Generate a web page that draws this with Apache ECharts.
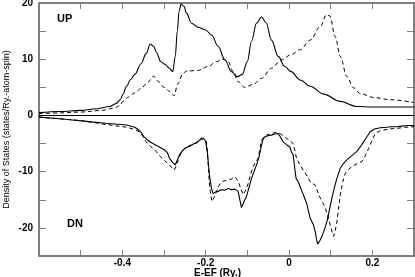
<!DOCTYPE html>
<html>
<head>
<meta charset="utf-8">
<script src="https://cdn.jsdelivr.net/npm/echarts@6/dist/echarts.min.js"></script>
<style>html,body{margin:0;padding:0;background:#fff}#c{width:415px;height:277px}</style>
</head>
<body>
<div id="c"></div>
<script>
// Energy range and ticks
const xMin = -0.6, xMax = 0.3, xStep = 0.1;
const yMin = -25, yMax = 20, yStep = 5;
const xTickLabels = ['-0.4', '-0.2', '0', '0.2'];
const yTickLabels = ['20', '10', '0', '-10', '-20'];
const upLabel = 'UP', dnLabel = 'DN';

// [E-EF (Ry), DOS]
const upSolid = [[-0.6,0.5],[-0.55,0.7],[-0.5,0.9],[-0.46,1.2],[-0.43,1.6],[-0.415,2.1],[-0.405,2.8],[-0.398,3.8],[-0.39,5.2],[-0.38,6.4],[-0.37,7.3],[-0.355,9.2],[-0.343,11.0],[-0.333,12.7],[-0.325,12.3],[-0.318,11.2],[-0.308,9.6],[-0.298,9.1],[-0.287,8.4],[-0.279,7.8],[-0.273,10.5],[-0.268,15],[-0.264,18.5],[-0.259,19.8],[-0.252,19.4],[-0.246,18.2],[-0.234,16.4],[-0.219,15.7],[-0.2,15.2],[-0.186,14.3],[-0.17,12.3],[-0.154,9.9],[-0.138,7.8],[-0.124,6.9],[-0.112,7.3],[-0.1,9.6],[-0.09,13.2],[-0.078,16.4],[-0.066,17.5],[-0.055,16.5],[-0.042,13.4],[-0.026,10.5],[-0.01,8.7],[0.005,7.8],[0.027,6.3],[0.051,5.2],[0.083,3.8],[0.123,2.5],[0.163,1.6],[0.2,1.5],[0.3,1.5]];
const upDashed = [[-0.6,0.3],[-0.55,0.45],[-0.5,0.6],[-0.45,0.9],[-0.42,1.3],[-0.407,1.7],[-0.397,2.6],[-0.385,3.3],[-0.37,4.0],[-0.355,4.8],[-0.34,5.8],[-0.325,7.0],[-0.313,6.0],[-0.3,5.0],[-0.287,4.3],[-0.276,3.5],[-0.267,5.6],[-0.255,7.4],[-0.246,7.9],[-0.219,8.0],[-0.194,8.7],[-0.174,9.6],[-0.158,10.0],[-0.146,9.6],[-0.134,7.8],[-0.122,6.0],[-0.106,5.0],[-0.086,5.5],[-0.066,6.6],[-0.042,8.4],[-0.018,9.9],[0.005,10.8],[0.027,11.7],[0.051,13.4],[0.075,15.8],[0.09,17.9],[0.098,17.7],[0.111,14.0],[0.123,10.5],[0.139,6.9],[0.155,4.9],[0.171,3.9],[0.203,3.2],[0.243,2.8],[0.3,2.3]];
const dnSolid = [[-0.6,-0.3],[-0.55,-0.6],[-0.52,-0.8],[-0.48,-1.1],[-0.44,-1.4],[-0.39,-1.7],[-0.37,-2.1],[-0.362,-2.5],[-0.355,-3.0],[-0.348,-3.8],[-0.339,-4.4],[-0.329,-4.9],[-0.319,-5.3],[-0.309,-5.7],[-0.299,-6.1],[-0.292,-6.6],[-0.287,-7.6],[-0.28,-8.3],[-0.273,-8.8],[-0.268,-7.9],[-0.263,-7.0],[-0.257,-6.4],[-0.251,-5.9],[-0.243,-5.6],[-0.234,-5.3],[-0.228,-5.0],[-0.222,-4.8],[-0.216,-4.5],[-0.21,-4.0],[-0.205,-4.1],[-0.2,-4.6],[-0.196,-6.4],[-0.193,-9.0],[-0.19,-11.2],[-0.186,-13.0],[-0.182,-13.9],[-0.176,-13.6],[-0.17,-13.5],[-0.162,-13.2],[-0.154,-13.3],[-0.146,-13.0],[-0.138,-13.2],[-0.13,-13.1],[-0.122,-13.5],[-0.118,-15.0],[-0.114,-16.4],[-0.108,-15.3],[-0.102,-14.4],[-0.096,-12.8],[-0.09,-11.2],[-0.084,-10.0],[-0.078,-8.8],[-0.072,-7.4],[-0.066,-5.3],[-0.062,-4.2],[-0.058,-3.8],[-0.05,-3.6],[-0.042,-3.5],[-0.034,-3.3],[-0.026,-3.2],[-0.02,-3.9],[-0.014,-4.7],[-0.006,-5.2],[0.002,-5.6],[0.006,-6.5],[0.01,-7.0],[0.014,-9.5],[0.017,-11.2],[0.022,-11.8],[0.026,-12.5],[0.031,-13.5],[0.035,-14.2],[0.039,-15.0],[0.043,-15.8],[0.047,-17.1],[0.051,-18.3],[0.055,-18.9],[0.059,-19.5],[0.063,-20.7],[0.066,-22.0],[0.069,-22.9],[0.074,-22.3],[0.079,-21.5],[0.085,-20.3],[0.091,-18.9],[0.097,-16.8],[0.103,-14.7],[0.109,-12.8],[0.115,-11.2],[0.123,-9.4],[0.13,-8.6],[0.139,-7.9],[0.15,-7.2],[0.163,-6.4],[0.171,-5.6],[0.179,-4.7],[0.187,-3.8],[0.195,-2.9],[0.205,-2.4],[0.219,-2.2],[0.235,-2.1],[0.245,-2.0],[0.259,-2.0],[0.27,-1.9],[0.285,-1.8],[0.3,-1.8]];
const dnDashed = [[-0.6,-0.3],[-0.55,-0.6],[-0.5,-0.9],[-0.44,-1.6],[-0.39,-2.1],[-0.37,-2.5],[-0.359,-2.9],[-0.35,-3.8],[-0.343,-4.7],[-0.331,-5.6],[-0.319,-6.4],[-0.309,-7.3],[-0.299,-8.0],[-0.287,-8.8],[-0.281,-9.3],[-0.275,-9.7],[-0.269,-8.6],[-0.263,-7.3],[-0.257,-6.5],[-0.251,-5.9],[-0.24,-5.4],[-0.228,-5.1],[-0.219,-4.8],[-0.21,-4.3],[-0.204,-4.1],[-0.198,-4.7],[-0.195,-7.5],[-0.192,-11.2],[-0.189,-13.5],[-0.185,-15.3],[-0.18,-14.6],[-0.174,-13.5],[-0.168,-12.5],[-0.162,-11.8],[-0.154,-11.6],[-0.146,-11.5],[-0.138,-11.3],[-0.13,-10.9],[-0.125,-11.4],[-0.12,-12.1],[-0.115,-13.2],[-0.11,-14.1],[-0.104,-13.3],[-0.098,-12.1],[-0.092,-10.4],[-0.086,-9.1],[-0.08,-8.3],[-0.074,-7.6],[-0.07,-6.0],[-0.066,-4.4],[-0.06,-3.8],[-0.054,-3.5],[-0.042,-3.2],[-0.03,-3.0],[-0.02,-3.3],[-0.01,-3.8],[0.0,-4.4],[0.005,-4.7],[0.01,-5.0],[0.014,-6.2],[0.018,-7.6],[0.026,-8.7],[0.034,-9.7],[0.042,-10.6],[0.051,-11.8],[0.057,-12.1],[0.063,-12.4],[0.069,-13.6],[0.075,-14.7],[0.081,-15.5],[0.087,-16.5],[0.093,-17.8],[0.099,-19.5],[0.103,-20.6],[0.107,-21.5],[0.111,-20.5],[0.115,-18.9],[0.119,-16.5],[0.123,-14.1],[0.129,-11.8],[0.135,-10.3],[0.143,-9.6],[0.151,-9.1],[0.163,-8.6],[0.175,-8.2],[0.183,-7.2],[0.191,-5.9],[0.199,-4.5],[0.207,-3.2],[0.217,-2.8],[0.227,-2.6],[0.243,-2.4],[0.259,-2.3],[0.28,-2.1],[0.3,-2.0]];

const frameColor = '#808080';
const font = 'Liberation Sans, Arial, Helvetica, sans-serif';
const narrowFont = '"Liberation Sans Narrow", "Arial Narrow", "Liberation Sans", sans-serif';

function xFmt(v) {
  const r = Math.round(v * 10);
  const s = r === 0 ? '0' : (r / 10).toFixed(1);
  return xTickLabels.indexOf(s) >= 0 ? s : '';
}
function yFmt(v) {
  const s = String(Math.round(v));
  return yTickLabels.indexOf(s) >= 0 ? s : '';
}

function xAxisDef(pos, showLabel) {
  return {
    type: 'value', position: pos, min: xMin, max: xMax, interval: xStep,
    axisLine: { show: true, onZero: false, lineStyle: { color: frameColor, width: 2 } },
    axisTick: { show: true, inside: true, length: 6, lineStyle: { color: frameColor, width: 1 } },
    axisLabel: { show: showLabel, formatter: xFmt, color: '#000', fontWeight: 'bold', fontSize: 10, lineHeight: 10, fontFamily: font, margin: 2 },
    splitLine: { show: false },
    name: showLabel ? 'E-EF (Ry.)' : '',
    nameLocation: 'middle', nameGap: 12, nameMoveOverlap: false,
    nameTextStyle: { color: '#000', fontWeight: 'bold', fontSize: 10, lineHeight: 10, fontFamily: font, padding: [0, 18, 0, 0] }
  };
}
function yAxisDef(pos, showLabel) {
  return {
    type: 'value', position: pos, min: yMin, max: yMax, interval: yStep,
    axisLine: { show: true, onZero: false, lineStyle: { color: frameColor, width: 2 } },
    axisTick: { show: true, inside: true, length: 7, lineStyle: { color: frameColor, width: 1 } },
    axisLabel: { show: showLabel, formatter: yFmt, color: '#000', fontWeight: 'bold', fontSize: 10, fontFamily: font, margin: 6 },
    splitLine: { show: false },
    name: showLabel ? 'Density of States (states/Ry.-atom-spin)' : '',
    nameLocation: 'middle', nameGap: 28, nameMoveOverlap: false,
    nameTextStyle: { color: '#000', fontSize: 9, fontFamily: narrowFont }
  };
}

const chart = echarts.init(document.getElementById('c'), null, { renderer: 'canvas' });
chart.setOption({
  animation: false,
  backgroundColor: '#fff',
  grid: { left: 39, right: 1, top: 3, bottom: 21, containLabel: false, outerBoundsMode: 'none' },
  xAxis: [xAxisDef('bottom', true), xAxisDef('top', false)],
  yAxis: [yAxisDef('left', true), yAxisDef('right', false)],
  graphic: [
    { type: 'text', left: 57, top: 13, style: { text: upLabel, font: 'bold 11px ' + font, fill: '#000' } },
    { type: 'text', left: 67, top: 218, style: { text: dnLabel, font: 'bold 11px ' + font, fill: '#000' } }
  ],
  series: [
    { type: 'line', data: upSolid, showSymbol: false, smooth: 0.35, smoothMonotone: 'x', clip: true,
      lineStyle: { color: '#000', width: 1.1 },
      markLine: { silent: true, symbol: 'none', label: { show: false },
        lineStyle: { color: '#000', width: 1, type: 'solid' }, data: [{ yAxis: 0 }] } },
    { type: 'line', data: upDashed, showSymbol: false, smooth: 0.35, smoothMonotone: 'x', clip: true,
      lineStyle: { color: '#000', width: 1, type: [4, 3] } },
    { type: 'line', data: dnSolid, showSymbol: false, smooth: false, clip: true,
      lineStyle: { color: '#000', width: 1.1 } },
    { type: 'line', data: dnDashed, showSymbol: false, smooth: false, clip: true,
      lineStyle: { color: '#000', width: 1, type: [4, 3] } }
  ]
});
</script>
</body>
</html>
